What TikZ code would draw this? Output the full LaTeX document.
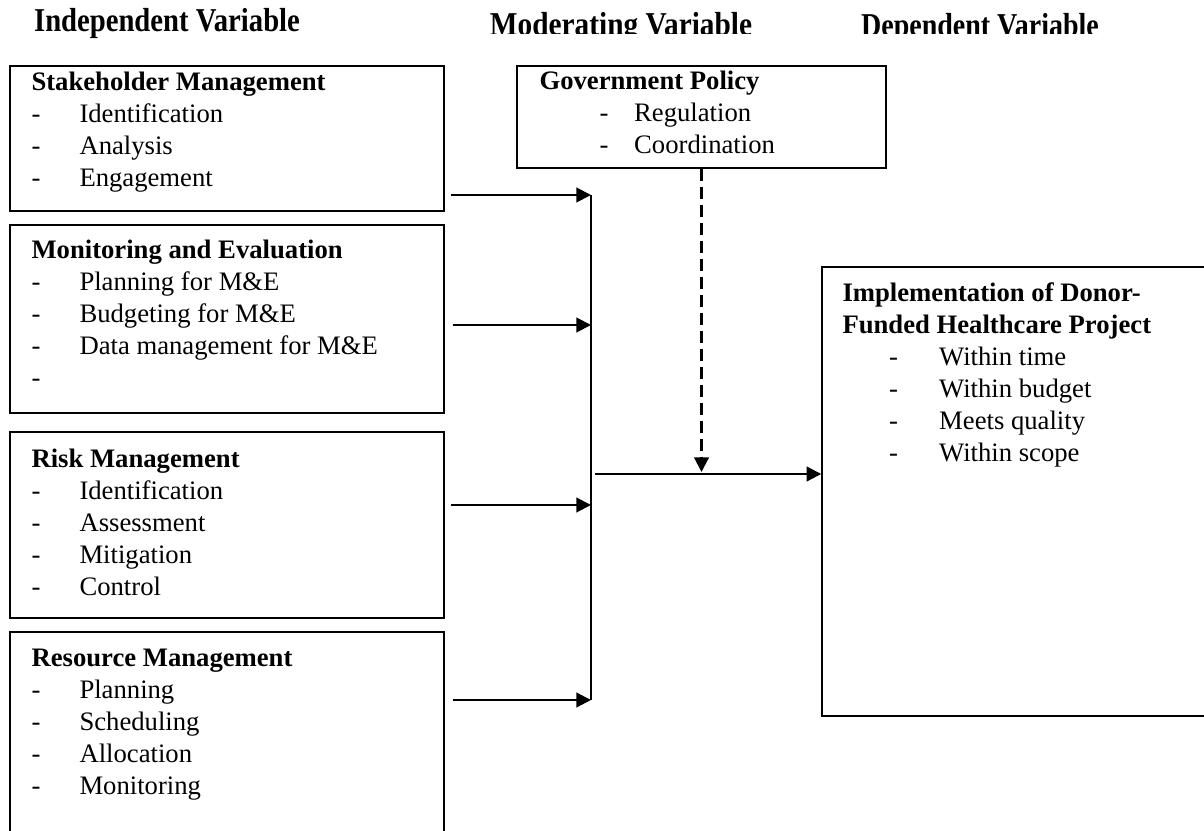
\documentclass[tikz,border=0pt]{standalone}
\usepackage{fontspec}
\setmainfont{Liberation Serif}
\usetikzlibrary{arrows.meta,calc,fit}

\begin{document}
\begin{tikzpicture}[x=0.75pt, y=-0.75pt, line join=miter,
    box/.style={draw, line width=1.1pt, inner sep=0pt},
    txt/.style={inner sep=0pt, anchor=base west, font=\fontsize{20}{24}\selectfont},
    head/.style={inner sep=0pt, anchor=base, font=\fontsize{25}{30}\selectfont\bfseries},
    link/.style={line width=1.6pt, -{Triangle[length=11pt,width=11pt]}},
    bus/.style={line width=0.9pt}]
  \useasboundingbox (0,0) rectangle (1204,831);
  % headings
  \node[head] (indep) at (167,32) {\scalebox{0.86}[1]{Independent Variable}};
  \begin{scope}
    \clip (450,0) rectangle (1204,34);
    \node[head] (moder) at (621,36) {\scalebox{0.88}[1]{Moderating Variable}};
    \node[head] (depend) at (980,37) {\scalebox{0.84}[1]{Dependent Variable}};
  \end{scope}
  % boxes
  \node[box, fit={(10,66)(444,211)}] (stake) {};
  \node[box, fit={(10,225)(444,413)}] (mande) {};
  \node[box, fit={(10,432)(444,618)}] (risk) {};
  \node[box, fit={(10,632)(444,850)}] (res) {};
  \node[box, fit={(517,66)(886,168)}] (gov) {};
  \node[box, fit={(822,267)(1220,716)}] (impl) {};
  % box texts
  \node[txt] (stakeT) at ($(stake.north west)+(22,25)$) {\begin{tabular}[t]{@{}p{36pt}@{}l@{}}
    \multicolumn{2}{@{}l@{}}{\bfseries Stakeholder Management}\\
    -&Identification\\ -&Analysis\\ -&Engagement
  \end{tabular}};
  \node[txt] (mandeT) at ($(mande.north west)+(22,34)$) {\begin{tabular}[t]{@{}p{36pt}@{}l@{}}
    \multicolumn{2}{@{}l@{}}{\bfseries Monitoring and Evaluation}\\
    -&Planning for M\&E\\ -&Budgeting for M\&E\\ -&Data management for M\&E\\ -&
  \end{tabular}};
  \node[txt] (riskT) at ($(risk.north west)+(22,36)$) {\begin{tabular}[t]{@{}p{36pt}@{}l@{}}
    \multicolumn{2}{@{}l@{}}{\bfseries Risk Management}\\
    -&Identification\\ -&Assessment\\ -&Mitigation\\ -&Control
  \end{tabular}};
  \node[txt] (resT) at ($(res.north west)+(22,35)$) {\begin{tabular}[t]{@{}p{36pt}@{}l@{}}
    \multicolumn{2}{@{}l@{}}{\bfseries Resource Management}\\
    -&Planning\\ -&Scheduling\\ -&Allocation\\ -&Monitoring
  \end{tabular}};
  \node[txt] (govT) at ($(gov.north west)+(23,24)$) {\begin{tabular}[t]{@{\hspace{45pt}}p{26pt}@{}l@{}}
    \multicolumn{2}{@{}l@{}}{\bfseries Government Policy}\\
    -&Regulation\\ -&Coordination
  \end{tabular}};
  \node[txt] (implT) at ($(impl.north west)+(21,35)$) {\begin{tabular}[t]{@{\hspace{35pt}}p{37.5pt}@{}l@{}}
    \multicolumn{2}{@{}l@{}}{\bfseries Implementation of Donor-}\\
    \multicolumn{2}{@{}l@{}}{\bfseries Funded Healthcare Project}\\
    -&Within time\\ -&Within budget\\ -&Meets quality\\ -&Within scope
  \end{tabular}};
  % connectors
  \coordinate (b1) at (591,195);
  \coordinate (b2) at (591,325);
  \coordinate (b3) at (591,505);
  \coordinate (b4) at (591,700);
  \coordinate (bout) at (595,474);
  \draw[bus] (b1) -- (b4);
  \draw[link] ($(stake.east |- b1)+(6,0)$) -- (b1);
  \draw[link] ($(mande.east |- b2)+(8,0)$) -- (b2);
  \draw[link] ($(risk.east |- b3)+(6,0)$) -- (b3);
  \draw[link] ($(res.east |- b4)+(8,0)$) -- (b4);
  \draw[link] (bout) -- (impl.west |- bout);
  \draw[link, dash pattern=on 9pt off 4.5pt] (gov.south) -- ($(gov.south |- bout)+(0,-2)$);
\end{tikzpicture}
\end{document}
